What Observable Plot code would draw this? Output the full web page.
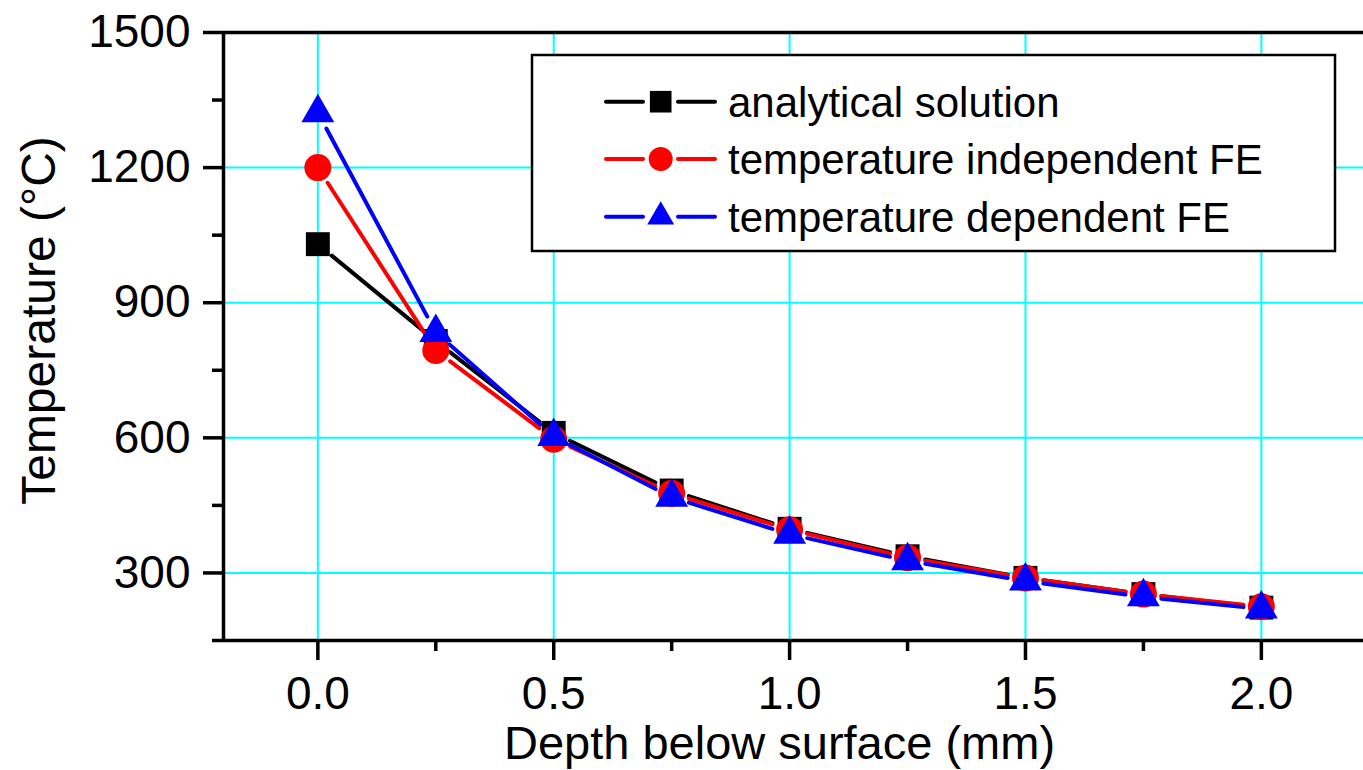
<!DOCTYPE html>
<html>
<head>
<meta charset="utf-8">
<script src="https://cdn.jsdelivr.net/npm/d3@7"></script>
<script src="https://cdn.jsdelivr.net/npm/@observablehq/plot@0.6"></script>
<style>
  html, body { margin: 0; padding: 0; background: #fff; overflow: hidden; }
  #chart svg { display: block; }
</style>
</head>
<body>
<div id="chart"></div>
<script>
// ---- data ----
const depth = [0, 0.25, 0.5, 0.75, 1.0, 1.25, 1.5, 1.75, 2.0];
const analytical = [1030, 815, 611, 483, 398, 337, 289, 253, 223];
const independentFE = [1200, 794, 597, 477, 396, 334, 289, 253, 225];
const dependentFE = [1322, 834, 603, 468, 386, 327, 282, 247, 220];

const xMajorTicks = [0, 0.5, 1.0, 1.5, 2.0];
const xMinorTicks = [0.25, 0.75, 1.25, 1.75];
const yMajorTicks = [300, 600, 900, 1200, 1500];
const yMinorTicks = [150, 450, 750, 1050, 1350];

const seriesNames = ["analytical solution", "temperature independent FE", "temperature dependent FE"];
const seriesColors = ["#000000", "#FF0000", "#0000FF"];
const seriesSymbols = ["square", "circle", "triangle"];
const seriesValues = [analytical, independentFE, dependentFE];

// build tables
const points = seriesValues.map((vals, s) => depth.map((d, i) => ({x: d, y: vals[i], s})));
const segments = points.map(pts => pts.slice(1).map((p, i) => ({x1: pts[i].x, y1: pts[i].y, x2: p.x, y2: p.y})));

const font = "'Liberation Sans', Arial, Helvetica, sans-serif";
const symbolR = [13.5, 13.5, 12.2];

const marks = [
  Plot.ruleX(xMajorTicks, {stroke: "#00FFFF", strokeWidth: 2}),
  Plot.ruleY(yMajorTicks, {stroke: "#00FFFF", strokeWidth: 2}),
  Plot.ruleX([-0.2], {stroke: "black", strokeWidth: 3.5}),
  Plot.ruleY([150], {stroke: "black", strokeWidth: 3.5}),
  Plot.ruleY([1500], {stroke: "black", strokeWidth: 3.5}),
  Plot.axisX({ticks: xMajorTicks, tickSize: 20, tickPadding: 16, tickFormat: d3.format(".1f"), fontSize: 46, strokeWidth: 3.5, label: null, fill: "black"}),
  Plot.axisX({ticks: xMinorTicks, tickSize: 11, text: null, strokeWidth: 3.5, label: null}),
  Plot.axisY({ticks: yMajorTicks, tickSize: 20, tickPadding: 13, tickFormat: d3.format("d"), fontSize: 46, strokeWidth: 3.5, label: null, fill: "black"}),
  Plot.axisY({ticks: yMinorTicks, tickSize: 11, text: null, strokeWidth: 3.5, label: null}),
];

for (let s = 0; s < 3; s++) {
  marks.push(Plot.arrow(segments[s], {
    x1: "x1", y1: "y1", x2: "x2", y2: "y2",
    headLength: 0, insetStart: 18, insetEnd: 18,
    stroke: seriesColors[s], strokeWidth: 4, strokeLinecap: "round"
  }));
  marks.push(Plot.dot(points[s], {
    x: "x", y: "y", symbol: () => seriesSymbols[s], r: symbolR[s],
    fill: seriesColors[s], stroke: "none"
  }));
}

marks.push(Plot.text(["Depth below surface (mm)"], {
  frameAnchor: "bottom", dx: -14, dy: 103, lineAnchor: "middle",
  fontSize: 47, fill: "black", textAnchor: "middle"
}));
marks.push(Plot.text(["Temperature (°C)"], {
  frameAnchor: "left", dx: -184, dy: -16, rotate: -90, lineAnchor: "middle",
  fontSize: 48, fill: "black", textAnchor: "middle"
}));

const chart = Plot.plot({
  width: 1363,
  height: 770,
  marginLeft: 223,
  marginTop: 32,
  marginBottom: 130,
  marginRight: 0,
  style: {fontFamily: font, background: "white", overflow: "visible"},
  x: {domain: [-0.2, 2.2165], axis: null},
  y: {domain: [150, 1500], axis: null},
  symbol: {type: "identity"},
  marks
});

// legend inside the plot's svg
const svg = d3.select(chart);
const lg = svg.append("g").attr("font-family", font).attr("text-anchor", "start");
lg.append("rect").attr("x", 532).attr("y", 55).attr("width", 803).attr("height", 196)
  .attr("fill", "white").attr("stroke", "black").attr("stroke-width", 2.5);
const rowY = [101.7, 159, 216.7];
const legR = [12.2, 12, 10];
seriesNames.forEach((name, s) => {
  const y = rowY[s];
  [[606, 643], [678, 715]].forEach(([a, b]) => {
    lg.append("line").attr("x1", a).attr("x2", b).attr("y1", y).attr("y2", y)
      .attr("stroke", seriesColors[s]).attr("stroke-width", 4).attr("stroke-linecap", "round");
  });
  const sym = s === 0 ? d3.symbolSquare : s === 1 ? d3.symbolCircle : d3.symbolTriangle;
  lg.append("path").attr("d", d3.symbol(sym, Math.PI * legR[s] * legR[s])())
    .attr("transform", `translate(660.7,${y})`).attr("fill", seriesColors[s]);
  lg.append("text").attr("x", 728).attr("y", y + 15).attr("font-size", 42)
    .attr("text-anchor", "start").attr("fill", "black").text(name);
});

document.getElementById("chart").appendChild(chart);
</script>
</body>
</html>
